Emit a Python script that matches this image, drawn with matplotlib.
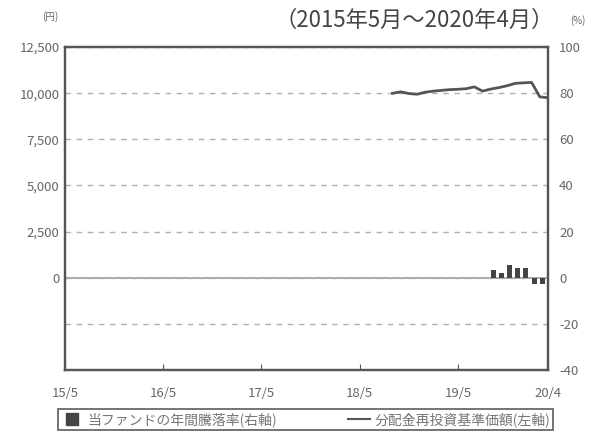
import matplotlib
matplotlib.use("Agg")
import matplotlib.pyplot as plt
from matplotlib.lines import Line2D

plt.rcParams['font.family'] = ['Noto Sans CJK JP', 'DejaVu Sans']

# x positions are months since 2015/5
nav_months = list(range(40, 60))
nav_values = [9990, 10070, 9980, 9940, 10050, 10110, 10150, 10190, 10210, 10240,
              10340, 10110, 10220, 10300, 10400, 10530, 10560, 10580, 9800, 9750]

ret_months = [52, 53, 54, 55, 56, 57, 58]
ret_values = [3.2, 2.2, 5.6, 4.3, 4.0, -2.6, -2.6]

xtick_pos = [0, 12, 24, 36, 48, 59]
xtick_labels = ['15/5', '16/5', '17/5', '18/5', '19/5', '20/4']
left_ticks = [0, 2500, 5000, 7500, 10000, 12500]
left_labels = ['0', '2,500', '5,000', '7,500', '10,000', '12,500']
right_ticks = [-40, -20, 0, 20, 40, 60, 80, 100]

title = '（2015年5月～2020年4月）'
legend_bar = '当ファンドの年間騰落率(右軸)'
legend_line = '分配金再投資基準価額(左軸)'

tc = '#666666'
sc = '#555555'

fig = plt.figure(figsize=(5.92, 4.34), dpi=100)
ax = fig.add_axes([65/592, 1-370/434, (548-65)/592, (370-47)/434])
ax2 = ax.twinx()

ax.set_xlim(0, 59)
ax.set_ylim(-5000, 12500)
ax2.set_ylim(-40, 100)

ax2.set_yticks(right_ticks)
ax2.set_yticklabels([str(v) for v in right_ticks])
ax2.yaxis.grid(True, linestyle=(0, (4, 4)), color='#b0b0b0', linewidth=1)
ax2.axhline(0, color='#999999', linewidth=1.2, zorder=1)
ax2.bar(ret_months, ret_values, width=0.6, align='edge', color='#444444', zorder=3)

ax.plot(nav_months, nav_values, color='#555555', linewidth=2, zorder=4)
ax.set_zorder(ax2.get_zorder() + 1)
ax.patch.set_visible(False)

ax.set_yticks(left_ticks)
ax.set_yticklabels(left_labels)
ax.set_xticks(xtick_pos)
ax.set_xticklabels(xtick_labels)

for a in (ax, ax2):
    for s in a.spines.values():
        s.set_color(sc)
        s.set_linewidth(1.6)
ax.tick_params(axis='y', length=0, labelsize=9.5, labelcolor=tc, pad=4)
ax2.tick_params(axis='y', length=0, labelsize=9.5, labelcolor=tc, pad=8)
ax.tick_params(axis='x', direction='in', length=4, color=sc, labelsize=9.5, labelcolor=tc, pad=12)

fig.text(554/592, 1-20/434, title, ha='right', va='center', fontsize=16, color='#444444')
fig.text(50/592, 1-17/434, '(円)', ha='center', va='center', fontsize=7, color=tc)
fig.text(578/592, 1-21/434, '(%)', ha='center', va='center', fontsize=7, color=tc)

handles = [Line2D([], [], marker='s', linestyle='none', markersize=8,
                  color='#444444'),
           Line2D([0], [0], color='#555555', linewidth=1.5)]
leg = fig.legend(handles, [legend_bar, legend_line], loc='center', ncol=2,
                 bbox_to_anchor=(58/592, 1-431/434, (553-58)/592, 23/434),
                 mode='expand', fontsize=10,
                 frameon=True, fancybox=False,
                 handlelength=1.6, handletextpad=0.3,
                 borderpad=0.2, columnspacing=1.6, borderaxespad=0)
leg.get_frame().set_edgecolor('#333333')
leg.get_frame().set_linewidth(1.2)
for t in leg.get_texts():
    t.set_color('#777777')

fig.savefig('out.png', dpi=100)
